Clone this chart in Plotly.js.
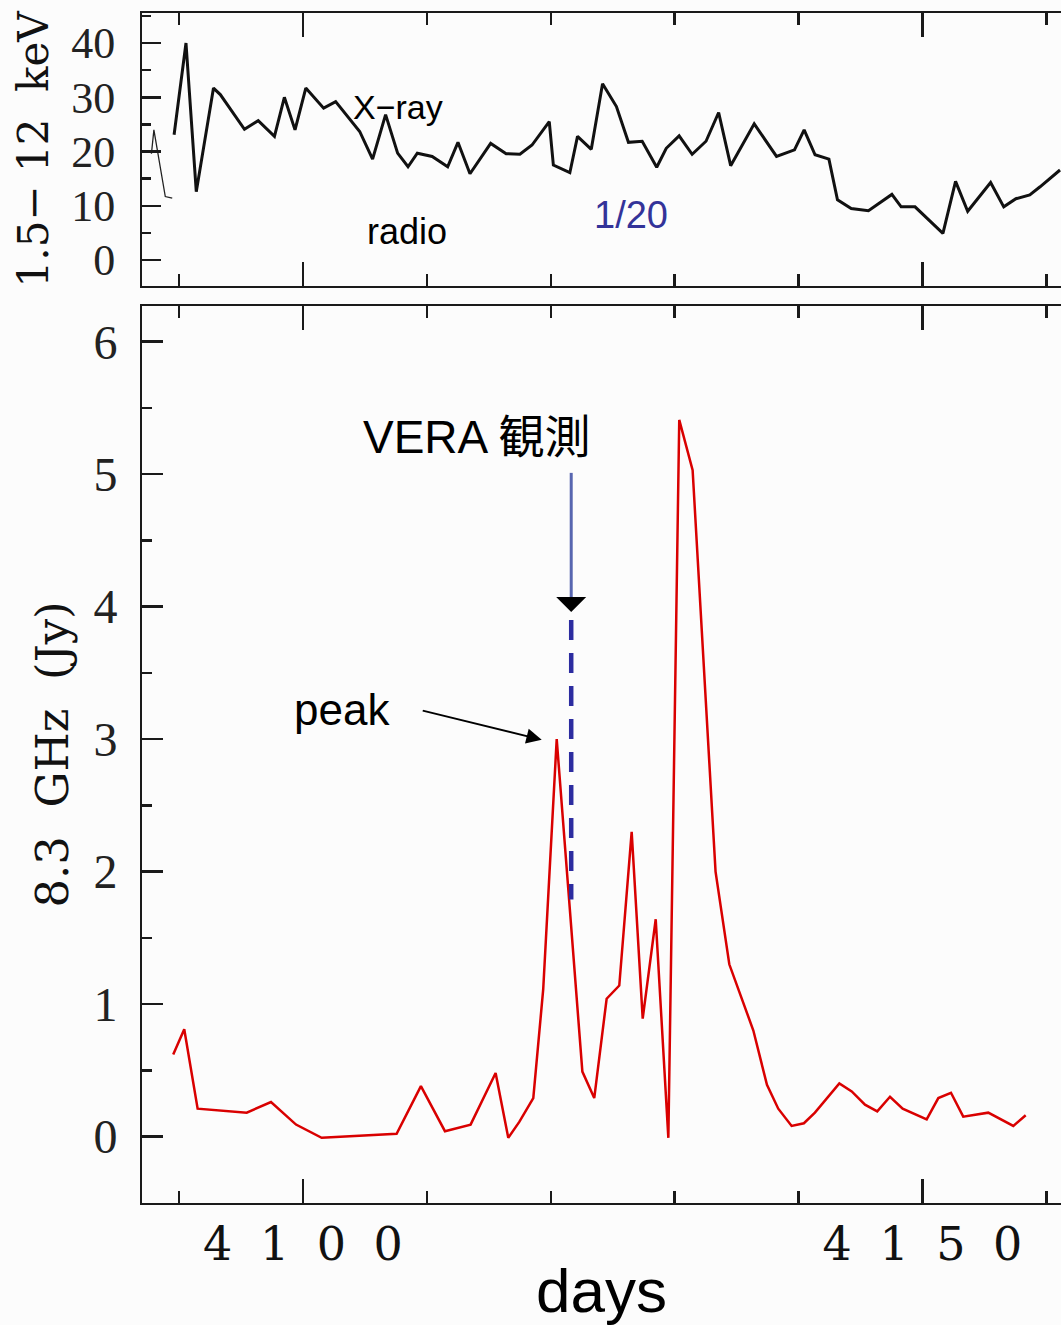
<!DOCTYPE html>
<html>
<head>
<meta charset="utf-8">
<script src="https://cdn.plot.ly/plotly-3.0.1.min.js"></script>
<style>
html, body { margin: 0; padding: 0; background: #fcfcfc; }
#chart { width: 1061px; height: 1325px; }
</style>
</head>
<body>
<div id="chart"></div>
<script>
// ---- Data ----
// X-ray light curve (1.5-12 keV), top panel
const xrayDays = [4089.6, 4090.56, 4091.39, 4092.78, 4093.33, 4095.28, 4096.39, 4097.70, 4098.50, 4099.36,
  4100.23, 4101.67, 4102.64, 4104.58, 4105.62, 4106.67, 4107.64, 4108.48, 4109.23, 4110.43,
  4111.68, 4112.51, 4113.48, 4115.15, 4116.40, 4117.51, 4118.49, 4119.88, 4120.21, 4121.54,
  4122.16, 4123.27, 4124.18, 4125.30, 4126.27, 4127.38, 4128.55, 4129.32, 4130.36, 4131.41,
  4132.53, 4133.55, 4134.52, 4136.42, 4138.22, 4139.67, 4140.45, 4141.33, 4142.45, 4143.14,
  4144.25, 4145.64, 4147.53, 4148.28, 4149.40, 4151.65, 4152.67, 4153.65, 4155.50, 4156.56,
  4157.54, 4158.66, 4159.49, 4161.1];
const xrayFlux = [23.1, 40.0, 12.6, 31.7, 30.5, 24.1, 25.7, 22.8, 30.0, 24.0,
  31.7, 28.0, 29.2, 23.7, 18.6, 26.8, 19.7, 17.2, 19.7, 19.1,
  17.2, 21.7, 15.9, 21.5, 19.6, 19.5, 21.2, 25.5, 17.5, 16.1,
  22.8, 20.4, 32.5, 28.3, 21.7, 21.9, 17.1, 20.6, 22.9, 19.5,
  21.9, 27.2, 17.4, 25.1, 19.1, 20.3, 24.0, 19.4, 18.6, 11.1,
  9.5, 9.1, 12.1, 9.8, 9.8, 4.9, 14.5, 9.0, 14.3, 9.8,
  11.3, 12.0, 13.5, 16.6];

// Radio (scaled 1/20) remnant visible at the left of the top panel
const radioTopDays = [4087.77, 4087.97, 4088.89, 4089.45];
const radioTopFlux = [19.6, 24.0, 11.7, 11.4];

// 8.3 GHz radio light curve (Jy), bottom panel
const radioDays = [4089.53, 4090.42, 4091.50, 4095.46, 4097.42, 4099.44, 4101.51, 4107.56,
  4109.52, 4111.46, 4113.53, 4115.55, 4116.57, 4117.46, 4118.59, 4119.39,
  4120.48, 4122.55, 4123.51, 4124.51, 4125.53, 4126.53, 4127.42, 4128.47,
  4129.49, 4130.37, 4131.45, 4133.3, 4134.41, 4136.35, 4137.45, 4138.36,
  4139.44, 4140.43, 4141.32, 4143.29, 4144.29, 4145.36, 4146.35, 4147.38,
  4148.40, 4150.34, 4151.28, 4152.30, 4153.29, 4155.31, 4157.33, 4158.33];
const radioFlux = [0.62, 0.81, 0.21, 0.18, 0.26, 0.09, -0.01, 0.02,
  0.38, 0.04, 0.09, 0.48, -0.01, 0.11, 0.29, 1.11,
  3.00, 0.49, 0.29, 1.04, 1.14, 2.30, 0.89, 1.64,
  -0.01, 5.41, 5.03, 2.0, 1.30, 0.80, 0.39, 0.21,
  0.08, 0.10, 0.18, 0.40, 0.34, 0.24, 0.19, 0.30,
  0.21, 0.13, 0.29, 0.33, 0.15, 0.18, 0.08, 0.16];

// Tick labels
const xTickVals = [4100, 4150];
const SP = '\u2002\u200a';
const xTickText = ['4' + SP + '1' + SP + '0' + SP + '0', '4' + SP + '1' + SP + '5' + SP + '0'];

// Annotation anchors (data coordinates)
const veraDay = 4121.65;
const veraLineTop = 5.01;
const veraLineBottom = 4.03;
const veraHeadEnd = 3.96;
const veraDashTop = 3.90;
const veraDashBottom = 1.79;
const peakArrowDay = 4119.27;
const peakArrowFlux = 2.995;

// ---- Figure ----
const axisColor = '#1a1a1a';
const xRange = [4087.01, 4161.18];

const traces = [
  { x: radioDays, y: radioFlux, xaxis: 'x', yaxis: 'y', mode: 'lines', name: 'radio',
    line: { color: '#d90000', width: 2.5 } },
  { x: xrayDays, y: xrayFlux, xaxis: 'x2', yaxis: 'y2', mode: 'lines', name: 'X-ray',
    line: { color: '#111111', width: 3 } },
  { x: radioTopDays, y: radioTopFlux, xaxis: 'x2', yaxis: 'y2', mode: 'lines', name: 'radio 1/20',
    line: { color: '#222222', width: 1.3 } }
];

function xAxis(extra) {
  return Object.assign({
    range: xRange,
    showline: true, linecolor: axisColor, linewidth: 2,
    mirror: 'ticks', ticks: 'inside', ticklen: 24, tickwidth: 2.5, tickcolor: axisColor,
    tickmode: 'array', tickvals: xTickVals, ticktext: xTickText,
    minor: { tickmode: 'linear', tick0: 4090, dtick: 10, ticks: 'inside', ticklen: 12, tickwidth: 2.5, tickcolor: axisColor },
    showgrid: false, zeroline: false
  }, extra);
}

const layout = {
  width: 1061, height: 1325,
  margin: { l: 142, r: 0, t: 13, b: 122 },
  paper_bgcolor: '#fcfcfc', plot_bgcolor: '#fcfcfc',
  showlegend: false,
  xaxis: xAxis({
    anchor: 'y',
    tickfont: { family: 'DejaVu Serif', size: 46, color: '#111' },
    ticklabelstandoff: 0,
    title: { text: 'days', font: { family: 'Liberation Sans', size: 62, color: '#000' }, standoff: 4 }
  }),
  xaxis2: xAxis({ anchor: 'y2', showticklabels: false }),
  yaxis: {
    domain: [0, 0.7538], range: [-0.502, 6.27],
    showline: true, linecolor: axisColor, linewidth: 2, mirror: false,
    ticks: 'inside', ticklen: 21, tickwidth: 2.5, tickcolor: axisColor,
    tick0: 0, dtick: 1,
    minor: { tick0: 0, dtick: 0.5, ticks: 'inside', ticklen: 10, tickwidth: 2.5, tickcolor: axisColor },
    showgrid: false, zeroline: false,
    tickfont: { family: 'Liberation Serif', size: 48, color: '#222' },
    ticklabelstandoff: 13,
    title: { text: '8.3\u00a0\u00a0GHz\u00a0\u00a0(Jy)', font: { family: 'DejaVu Serif', size: 45, color: '#111' }, standoff: 11 }
  },
  yaxis2: {
    domain: [0.7708, 1], range: [-4.74, 45.54],
    showline: true, linecolor: axisColor, linewidth: 2, mirror: false,
    ticks: 'inside', ticklen: 19, tickwidth: 2.5, tickcolor: axisColor,
    tick0: 0, dtick: 10,
    minor: { tick0: 0, dtick: 5, ticks: 'inside', ticklen: 9, tickwidth: 2.5, tickcolor: axisColor },
    showgrid: false, zeroline: false,
    tickfont: { family: 'Liberation Serif', size: 44, color: '#222' },
    ticklabelstandoff: 16,
    title: { text: '1.5\u2212\u00a012\u00a0\u00a0keV', font: { family: 'DejaVu Serif', size: 42, color: '#111' }, standoff: 9 }
  },
  shapes: [
    { type: 'line', xref: 'x', yref: 'y', x0: veraDay, x1: veraDay, y0: veraLineTop, y1: veraLineBottom,
      line: { color: '#5866b0', width: 3 } },
    { type: 'line', xref: 'x', yref: 'y', x0: veraDay, x1: veraDay, y0: veraDashTop, y1: veraDashBottom,
      line: { color: '#2c2ca0', width: 4.5, dash: '20px,13px' } }
  ],
  annotations: [
    { xref: 'x2', yref: 'y2', x: 4107.67, y: 28.3, text: 'X\u2212ray', showarrow: false,
      font: { family: 'Liberation Sans', size: 34, color: '#000' } },
    { xref: 'x2', yref: 'y2', x: 4108.4, y: 5.2, text: 'radio', showarrow: false,
      font: { family: 'Liberation Sans', size: 36, color: '#000' } },
    { xref: 'x2', yref: 'y2', x: 4126.47, y: 8.3, text: '1/20', showarrow: false,
      font: { family: 'Liberation Sans', size: 38, color: '#333399' } },
    { xref: 'x', yref: 'y', x: 4114.04, y: 5.28, text: 'VERA 観測', showarrow: false,
      font: { family: 'Liberation Sans, Noto Sans CJK JP', size: 46, color: '#000' } },
    { xref: 'x', yref: 'y', x: 4103.15, y: 3.22, text: 'peak', showarrow: false,
      font: { family: 'Liberation Sans', size: 44, color: '#000' } },
    { xref: 'x', yref: 'y', x: peakArrowDay, y: peakArrowFlux, ax: -122, ay: -30,
      showarrow: true, arrowhead: 2, arrowsize: 1.7, arrowwidth: 1.8, arrowcolor: '#000' },
    { xref: 'x', yref: 'y', x: veraDay, y: veraHeadEnd, ax: 0, ay: -13,
      showarrow: true, arrowhead: 1, arrowsize: 2.5, arrowwidth: 2, arrowcolor: '#000' }
  ]
};

Plotly.newPlot('chart', traces, layout, { staticPlot: true, displayModeBar: false });
</script>
</body>
</html>
